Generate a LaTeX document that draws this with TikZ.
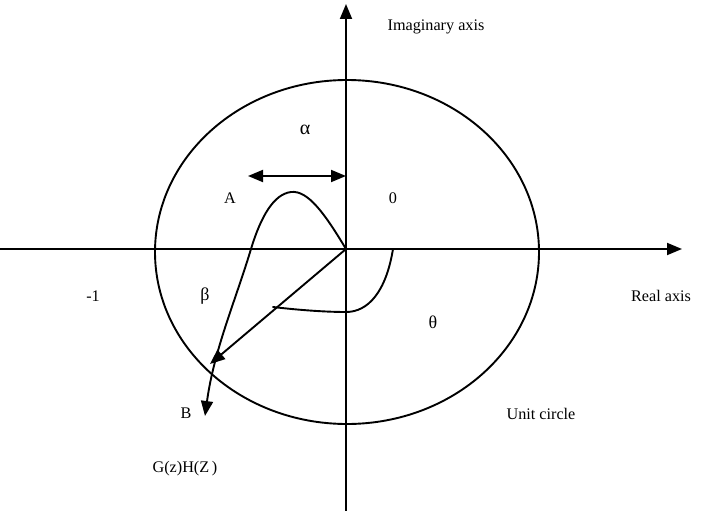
\documentclass[tikz,border=0pt]{standalone}
\usepackage{fontspec}
\setmainfont{Liberation Serif}
\usetikzlibrary{arrows.meta}
\tikzset{
  ln/.style={line width=1.9pt, line cap=round},
  tip/.style={-{Triangle[length=15pt,width=12pt]}},
  lbl/.style={font=\fontsize{16.2}{19}\selectfont, inner sep=0pt}
}
\begin{document}
\begin{tikzpicture}[x=1pt,y=-1pt]
\useasboundingbox (0,0) rectangle (705,511);
% axes
\coordinate (O) at (346,249);
\coordinate (Xl) at (0,249);
\coordinate (Xr) at (682,249);
\coordinate (Yt) at (346,4);
\coordinate (Yb) at (346,511);
\draw[ln,tip] (Xl) -- (Xr);
\draw[ln,tip] (Yb) -- (Yt);
% unit circle
\draw[ln] (347,252) ellipse [x radius=192, y radius=172];
% alpha double arrow
\coordinate (Al) at (248,176);
\coordinate (Ar) at (346,176);
\draw[ln,{Triangle[length=15pt,width=12pt]}-{Triangle[length=15pt,width=12pt]}] (Al) -- (Ar);
% G(z)H(z) curve
\coordinate (P) at (291,192);
\coordinate (C) at (251,249);
\coordinate (E) at (205,416);
\draw[ln,tip] (O) .. controls (325,214) and (308,190) .. (P)
  .. controls (274,194) and (261,216) .. (C)
  .. controls (235,302) and (214,350) .. (E);
% vector to B
\coordinate (B) at (210,364);
\draw[ln,tip] (O) -- (B);
% theta arc
\coordinate (T1) at (393,249);
\coordinate (T2) at (346,312);
\coordinate (T3) at (273,307);
\draw[ln] (T1) .. controls (386,292) and (368,312) .. (T2)
  .. controls (320,312) and (290,309) .. (T3);
% labels
\node[lbl] (imag) at (436,27) {Imaginary axis};
\node[lbl,font=\fontsize{20}{22}\selectfont] (alpha) at (305,130) {α};
\node[lbl] (A) at (230,198) {A};
\node[lbl] (zero) at (393,198) {0};
\node[lbl] (m1) at (93,296) {-1};
\node[lbl,font=\fontsize{18}{20}\selectfont] (beta) at (205,296) {β};
\node[lbl] (real) at (661,296) {Real axis};
\node[lbl,font=\fontsize{18}{20}\selectfont] (theta) at (433,322) {θ};
\node[lbl] (Bl) at (186,413) {B};
\node[lbl] (unit) at (541,414) {Unit circle};
\node[lbl] (gh) at (185,469) {G(z)H(Z\,)};
\end{tikzpicture}
\end{document}
